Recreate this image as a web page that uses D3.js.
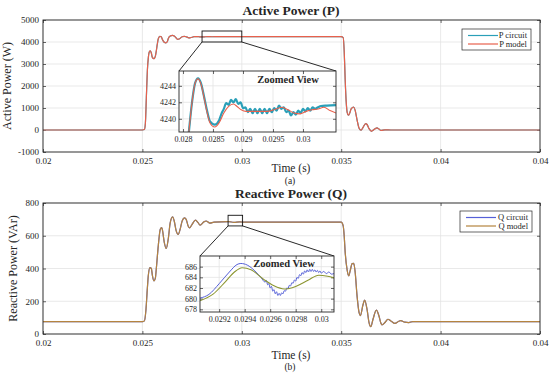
<!DOCTYPE html>
<html>
<head>
<meta charset="utf-8">
<script src="https://cdn.jsdelivr.net/npm/d3@7"></script>
<style>
  body { margin: 0; background: #fff; }
  svg { display: block; }
  text { font-family: "Liberation Serif", "Times New Roman", serif; fill: #262626; }
</style>
</head>
<body>
<svg id="chart" width="550" height="375"></svg>
<script>
// ---- data ----
const xTicks = [0.02, 0.025, 0.03, 0.035, 0.04, 0.045];
const xTickLabels = ["0.02", "0.025", "0.03", "0.035", "0.04", "0.04"];

const pTicks = [-1000, 0, 1000, 2000, 3000, 4000, 5000];
const qTicks = [0, 200, 400, 600, 800];

// active power, model (circuit overlaps it at this scale)
const pMain = [
  [0.020, 0], [0.0250, 0], [0.0251, 20], [0.02515, 300], [0.0252, 1500], [0.02525, 2700],
  [0.0253, 3300], [0.02535, 3560], [0.0254, 3600], [0.02545, 3500], [0.0255, 3300],
  [0.02558, 3240], [0.02565, 3350], [0.0257, 3600], [0.02575, 3900], [0.0258, 4150],
  [0.02588, 4255], [0.02595, 4240], [0.0260, 4130], [0.0261, 3990], [0.02618, 3960],
  [0.02625, 4010], [0.0263, 4150], [0.0264, 4270], [0.02652, 4300], [0.0266, 4270],
  [0.0267, 4180], [0.02678, 4120], [0.02685, 4140], [0.0270, 4240], [0.0271, 4260],
  [0.0272, 4240], [0.0273, 4200], [0.02738, 4185], [0.0275, 4215], [0.0276, 4240],
  [0.0278, 4245], [0.0279, 4230], [0.0281, 4235], [0.0283, 4244], [0.0285, 4239],
  [0.0289, 4242], [0.0292, 4241], [0.0300, 4241], [0.0350, 4241], [0.0351, 4200],
  [0.03515, 3600], [0.0352, 2300], [0.03525, 1300], [0.0353, 800], [0.03536, 670],
  [0.03542, 750], [0.0355, 960], [0.03563, 1045], [0.0357, 900], [0.0358, 450],
  [0.0359, 80], [0.0360, -10], [0.0361, 120], [0.03623, 290], [0.0363, 250],
  [0.0364, 60], [0.03653, -60], [0.0366, -10], [0.0368, 100], [0.0369, 40],
  [0.0370, -20], [0.0372, 10], [0.0375, 0], [0.045, 0]
];

// reactive power, model
const qMain = [
  [0.020, 75], [0.0250, 75], [0.0251, 80], [0.02518, 150], [0.02525, 280], [0.0253, 360],
  [0.02538, 405], [0.02545, 400], [0.0255, 360], [0.02558, 325], [0.02565, 340],
  [0.0257, 400], [0.0258, 540], [0.0259, 640], [0.02597, 650], [0.0260, 640],
  [0.0261, 560], [0.0262, 522], [0.0263, 580], [0.0264, 680], [0.02652, 715],
  [0.0266, 690], [0.0267, 630], [0.0268, 608], [0.0269, 640], [0.0270, 690],
  [0.02712, 709], [0.0272, 700], [0.0273, 660], [0.02738, 648], [0.0275, 670],
  [0.02767, 695], [0.0278, 680], [0.0279, 665], [0.0281, 685], [0.0282, 690],
  [0.0284, 677], [0.0286, 683], [0.02935, 686], [0.0296, 682], [0.0299, 684.5],
  [0.0302, 683], [0.0350, 683], [0.0351, 660], [0.03515, 600], [0.0352, 500],
  [0.0353, 390], [0.03538, 355], [0.03545, 385], [0.03555, 430], [0.03563, 431],
  [0.0357, 380], [0.0358, 230], [0.0359, 130], [0.03596, 112], [0.0361, 180],
  [0.03618, 207], [0.0363, 150], [0.0364, 70], [0.03649, 45], [0.0366, 90],
  [0.03677, 146], [0.0369, 110], [0.0370, 65], [0.03705, 55], [0.0372, 70],
  [0.03735, 90], [0.0375, 80], [0.0377, 65], [0.0379, 78], [0.0380, 82],
  [0.0382, 72], [0.0384, 70], [0.0386, 76], [0.0388, 75], [0.0390, 75], [0.045, 75]
];

// zoomed views
const pZoomXTicks = [0.028, 0.0285, 0.029, 0.0295, 0.03];
const pZoomXLabels = ["0.028", "0.0285", "0.029", "0.0295", "0.03"];
const pZoomYTicks = [4240, 4242, 4244];

const pZoomModel = [
  [0.02805, 4235], [0.0281, 4238.6], [0.02815, 4242], [0.0282, 4244.3], [0.02825, 4244.85],
  [0.0283, 4244.2], [0.02835, 4242.6], [0.0284, 4240.8], [0.02845, 4239.5], [0.02853, 4239.0],
  [0.0286, 4239.5], [0.02868, 4240.7], [0.02876, 4241.5], [0.02884, 4241.8], [0.0289, 4241.5],
  [0.02897, 4241.1], [0.02905, 4240.9], [0.0292, 4240.9], [0.0294, 4240.9], [0.02955, 4241.2],
  [0.02965, 4241.4], [0.02975, 4241.1], [0.02985, 4240.7], [0.02995, 4240.6], [0.03005, 4240.9],
  [0.03015, 4241.1], [0.03025, 4241.2], [0.03035, 4241.4], [0.03045, 4241.0], [0.03055, 4240.7]
];
const pZoomCircuit = [
  [0.02805, 4235], [0.0281, 4238.6], [0.02815, 4242], [0.0282, 4244.3], [0.02825, 4244.9],
  [0.0283, 4244.3], [0.02835, 4242.7], [0.0284, 4241.0], [0.02845, 4239.7], [0.02853, 4239.3],
  [0.0286, 4239.8], [0.02864, 4240.6], [0.02868, 4241.2], [0.02872, 4241.9], [0.02876, 4241.7],
  [0.0288, 4242.3], [0.02884, 4242.0], [0.02888, 4242.4], [0.02892, 4241.8], [0.02896, 4242.0],
  [0.029, 4241.3], [0.02904, 4241.4], [0.02908, 4240.8], [0.02912, 4241.2], [0.02916, 4240.7],
  [0.0292, 4241.2], [0.02924, 4240.7], [0.02928, 4241.2], [0.02932, 4240.7], [0.02936, 4241.2],
  [0.0294, 4240.7], [0.02944, 4241.2], [0.02948, 4240.8], [0.02952, 4241.3], [0.02956, 4241.0],
  [0.0296, 4241.6], [0.02964, 4241.2], [0.02968, 4241.4], [0.02972, 4240.8], [0.02976, 4241.0],
  [0.0298, 4240.4], [0.02984, 4240.8], [0.02988, 4240.5], [0.02992, 4241.0], [0.02996, 4240.7],
  [0.03, 4241.2], [0.03004, 4240.9], [0.03008, 4241.3], [0.03012, 4241.0], [0.03016, 4241.4],
  [0.0302, 4241.2], [0.03025, 4241.4], [0.0303, 4241.55], [0.0304, 4241.6], [0.03055, 4241.65]
];

const qZoomXTicks = [0.0292, 0.0294, 0.0296, 0.0298, 0.03];
const qZoomXLabels = ["0.0292", "0.0294", "0.0296", "0.0298", "0.03"];
const qZoomYTicks = [678, 680, 682, 684, 686];

const qZoomModel = [
  [0.02905, 679.6], [0.02915, 680.8], [0.02925, 683.2], [0.02932, 685.0], [0.02938, 685.8],
  [0.02945, 685.4], [0.02955, 683.6], [0.02963, 682.4], [0.02971, 681.8], [0.0298, 682.3],
  [0.0299, 683.5], [0.02998, 684.4], [0.03005, 684.2], [0.0301, 683.9]
];
const qZoomCircuit = [
  [0.02905, 680.1], [0.02912, 680.8], [0.0292, 682.8], [0.02928, 685.0], [0.02934, 686.4],
  [0.02937, 686.6], [0.02942, 686.3], [0.02948, 685.2], [0.02953, 683.9], [0.02956, 683.1],
  [0.02957, 683.4], [0.02958, 682.6], [0.02959, 682.8], [0.0296, 682.0], [0.02961, 682.3],
  [0.02962, 681.4], [0.02963, 681.7], [0.02964, 680.9], [0.02965, 681.3], [0.02966, 680.6],
  [0.02967, 681.0], [0.02968, 680.6], [0.02969, 681.1], [0.0297, 680.9], [0.02971, 681.5],
  [0.02972, 681.4], [0.02973, 682.0], [0.02974, 681.9], [0.02975, 682.5], [0.02976, 682.4],
  [0.02977, 683.0], [0.02978, 682.9], [0.02979, 683.5], [0.0298, 683.3], [0.02981, 684.0],
  [0.02982, 683.8], [0.02983, 684.5], [0.02984, 684.3], [0.02985, 684.9], [0.02986, 684.6],
  [0.02987, 685.2], [0.02988, 684.9], [0.02989, 685.4], [0.0299, 685.0], [0.02991, 685.5],
  [0.02992, 685.1], [0.02993, 685.5], [0.02994, 685.1], [0.02995, 685.4], [0.02996, 685.0],
  [0.02997, 685.3], [0.02998, 684.9], [0.02999, 685.2], [0.03, 684.8], [0.03002, 685.1],
  [0.03004, 684.7], [0.03006, 685.0], [0.03008, 684.6], [0.0301, 684.7]
];

// ---- drawing ----
const svg = d3.select("#chart");
const ink = "#262626", grid = "#e3e3e3";
const pCircuitColor = "#2a9fb8", pModelColor = "#e8604c";
const qCircuitColor = "#5560d8", qModelColor = "#b5843f", qModelInset = "#8c9632";

const x = d3.scaleLinear().domain([0.02, 0.045]).range([43, 540]);

let clipId = 0;
function makeClip(x0, y0, w, h) {
  const id = "clip" + (clipId++);
  svg.append("clipPath").attr("id", id)
    .append("rect").attr("x", x0).attr("y", y0).attr("width", w).attr("height", h);
  return "url(#" + id + ")";
}

function frame(g, xs, ys, xv, yv, xl, yl, fs, xPad, yPad) {
  const [x0, x1] = xs.range(), [y1, y0] = ys.range();
  const gg = g.append("g");
  gg.selectAll(".gx").data(xv).join("line")
    .attr("x1", d => xs(d)).attr("x2", d => xs(d)).attr("y1", y0).attr("y2", y1)
    .attr("stroke", grid).attr("stroke-width", 0.8);
  gg.selectAll(".gy").data(yv).join("line")
    .attr("x1", x0).attr("x2", x1).attr("y1", d => ys(d)).attr("y2", d => ys(d))
    .attr("stroke", grid).attr("stroke-width", 0.8);

  const ax = d3.axisBottom(xs).tickValues(xv).tickFormat((d, i) => xl[i])
    .tickSizeInner(-3).tickSizeOuter(0).tickPadding(xPad);
  const ay = d3.axisLeft(ys).tickValues(yv).tickFormat((d, i) => yl[i])
    .tickSizeInner(-3).tickSizeOuter(0).tickPadding(yPad);
  const axT = d3.axisTop(xs).tickValues(xv).tickFormat("").tickSizeInner(-3).tickSizeOuter(0);
  const ayR = d3.axisRight(ys).tickValues(yv).tickFormat("").tickSizeInner(-3).tickSizeOuter(0);

  [[ax, "translate(0," + y1 + ")"], [ay, "translate(" + x0 + ",0)"],
   [axT, "translate(0," + y0 + ")"], [ayR, "translate(" + x1 + ",0)"]].forEach(([a, t]) => {
    const s = g.append("g").attr("transform", t).call(a);
    s.select(".domain").remove();
    s.selectAll("line").attr("stroke", ink).attr("stroke-width", 0.7);
    s.selectAll("text").attr("font-family", "Liberation Serif, serif")
      .attr("font-size", fs).attr("fill", ink);
  });
  return () => g.append("rect").attr("x", x0).attr("y", y0)
    .attr("width", x1 - x0).attr("height", y1 - y0)
    .attr("fill", "none").attr("stroke", ink).attr("stroke-width", 0.9);
}

function drawLine(g, xs, ys, data, color, w, clip) {
  g.append("path").datum(data)
    .attr("clip-path", clip)
    .attr("fill", "none").attr("stroke", color).attr("stroke-width", w)
    .attr("stroke-linejoin", "round")
    .attr("d", d3.line().x(d => xs(d[0])).y(d => ys(d[1])).curve(d3.curveMonotoneX));
}

function panel(cfg) {
  const g = svg.append("g");
  const y = d3.scaleLinear().domain(cfg.yDomain).range(cfg.yRange);
  const closeFrame = frame(g, x, y, xTicks, cfg.yTicks, xTickLabels, cfg.yTicks.map(String), 9, 6, 4);
  const clip = makeClip(43, cfg.yRange[1], 497, cfg.yRange[0] - cfg.yRange[1]);
  cfg.series.forEach(s => drawLine(g, x, y, s.data, s.color, 1.2, clip));
  closeFrame();

  // titles
  g.append("text").attr("x", 291).attr("y", cfg.titleY).attr("text-anchor", "middle")
    .attr("font-size", 13.5).attr("font-weight", "bold").attr("fill", "#000").text(cfg.title);
  g.append("text").attr("x", 291).attr("y", cfg.xLabelY).attr("text-anchor", "middle")
    .attr("font-size", 11.5).text("Time (s)");
  g.append("text").attr("x", 290).attr("y", cfg.subY).attr("text-anchor", "middle")
    .attr("font-family", "Liberation Sans, Arial, sans-serif").attr("font-size", 9.5)
    .attr("fill", "#222").text(cfg.sub);
  const cy = (cfg.yRange[0] + cfg.yRange[1]) / 2;
  g.append("text").attr("transform", "translate(" + cfg.yLabelX + "," + cy + ") rotate(-90)")
    .attr("text-anchor", "middle").attr("font-size", 12).text(cfg.yLabel);

  // zoom rectangle and connectors
  const z = cfg.zoom, ins = cfg.inset;
  const rx0 = x(z.x[0]), rx1 = x(z.x[1]), ry0 = y(z.y[1]), ry1 = y(z.y[0]);
  g.append("rect").attr("x", rx0).attr("y", ry0).attr("width", rx1 - rx0).attr("height", ry1 - ry0)
    .attr("fill", "none").attr("stroke", "#111").attr("stroke-width", 0.9);
  g.append("line").attr("x1", rx0).attr("y1", ry1).attr("x2", ins.x).attr("y2", ins.y)
    .attr("stroke", "#111").attr("stroke-width", 0.9);
  g.append("line").attr("x1", rx1).attr("y1", ry1).attr("x2", ins.x + ins.w).attr("y2", ins.y)
    .attr("stroke", "#111").attr("stroke-width", 0.9);

  // inset
  const ig = g.append("g");
  ig.append("rect").attr("x", ins.x).attr("y", ins.y).attr("width", ins.w).attr("height", ins.h)
    .attr("fill", "#fff");
  const ix = d3.scaleLinear().domain(ins.xDomain).range([ins.x, ins.x + ins.w]);
  const iy = d3.scaleLinear().domain(ins.yDomain).range([ins.y + ins.h, ins.y]);
  const closeInset = frame(ig, ix, iy, ins.xTicks, ins.yTicks, ins.xLabels, ins.yTicks.map(String), 8, 4, 3);
  const iclip = makeClip(ins.x, ins.y, ins.w, ins.h);
  ins.series.forEach(s => drawLine(ig, ix, iy, s.data, s.color, s.w, iclip));
  closeInset();
  ig.append("text").attr("x", ins.titleX).attr("y", ins.titleY).attr("text-anchor", "middle")
    .attr("font-size", 10.5).attr("font-weight", "bold").attr("fill", "#000").text("Zoomed View");

  // legend
  const L = cfg.legend;
  g.append("rect").attr("x", L.x).attr("y", L.y).attr("width", L.w).attr("height", L.h)
    .attr("fill", "#fff").attr("stroke", ink).attr("stroke-width", 0.7);
  L.items.forEach((it, i) => {
    const ly = L.y + 6.5 + i * 8.5;
    g.append("line").attr("x1", L.x + 6).attr("x2", L.x + 36).attr("y1", ly).attr("y2", ly)
      .attr("stroke", it.color).attr("stroke-width", 1.2);
    g.append("text").attr("x", L.x + L.w - 4).attr("y", ly).attr("dy", "0.33em")
      .attr("text-anchor", "end").attr("font-size", 8.5).text(it.label);
  });
}

panel({
  title: "Active Power (P)", titleY: 15, xLabelY: 172, sub: "(a)", subY: 184,
  yLabel: "Active Power (W)", yLabelX: 11,
  yDomain: [-1000, 5000], yRange: [152, 20], yTicks: pTicks,
  series: [{ data: pMain, color: pCircuitColor }, { data: pMain, color: pModelColor }],
  zoom: { x: [0.028, 0.030], y: [4000, 4500] },
  inset: {
    x: 179, y: 71, w: 157, h: 61,
    xDomain: [0.027933, 0.03055], yDomain: [4238.4, 4245.8],
    xTicks: pZoomXTicks, xLabels: pZoomXLabels, yTicks: pZoomYTicks,
    titleX: 288, titleY: 83,
    series: [{ data: pZoomCircuit, color: pCircuitColor, w: 2.2 },
             { data: pZoomModel, color: pModelColor, w: 1.1 }]
  },
  legend: { x: 462, y: 29, w: 69, h: 21,
    items: [{ label: "P circuit", color: pCircuitColor }, { label: "P model", color: pModelColor }] }
});

panel({
  title: "Reactive Power (Q)", titleY: 198, xLabelY: 359, sub: "(b)", subY: 370,
  yLabel: "Reactive Power (VAr)", yLabelX: 17,
  yDomain: [0, 800], yRange: [334, 203], yTicks: qTicks,
  series: [{ data: qMain, color: qCircuitColor }, { data: qMain, color: qModelColor }],
  zoom: { x: [0.02931, 0.03004], y: [660, 725] },
  inset: {
    x: 200, y: 256, w: 134, h: 56,
    xDomain: [0.02905, 0.0301], yDomain: [677.5, 688],
    xTicks: qZoomXTicks, xLabels: qZoomXLabels, yTicks: qZoomYTicks,
    titleX: 284, titleY: 267,
    series: [{ data: qZoomCircuit, color: qCircuitColor, w: 1 },
             { data: qZoomModel, color: qModelInset, w: 1.1 }]
  },
  legend: { x: 460, y: 211, w: 72, h: 21,
    items: [{ label: "Q circuit", color: qCircuitColor }, { label: "Q model", color: qModelColor }] }
});
</script>
</body>
</html>
